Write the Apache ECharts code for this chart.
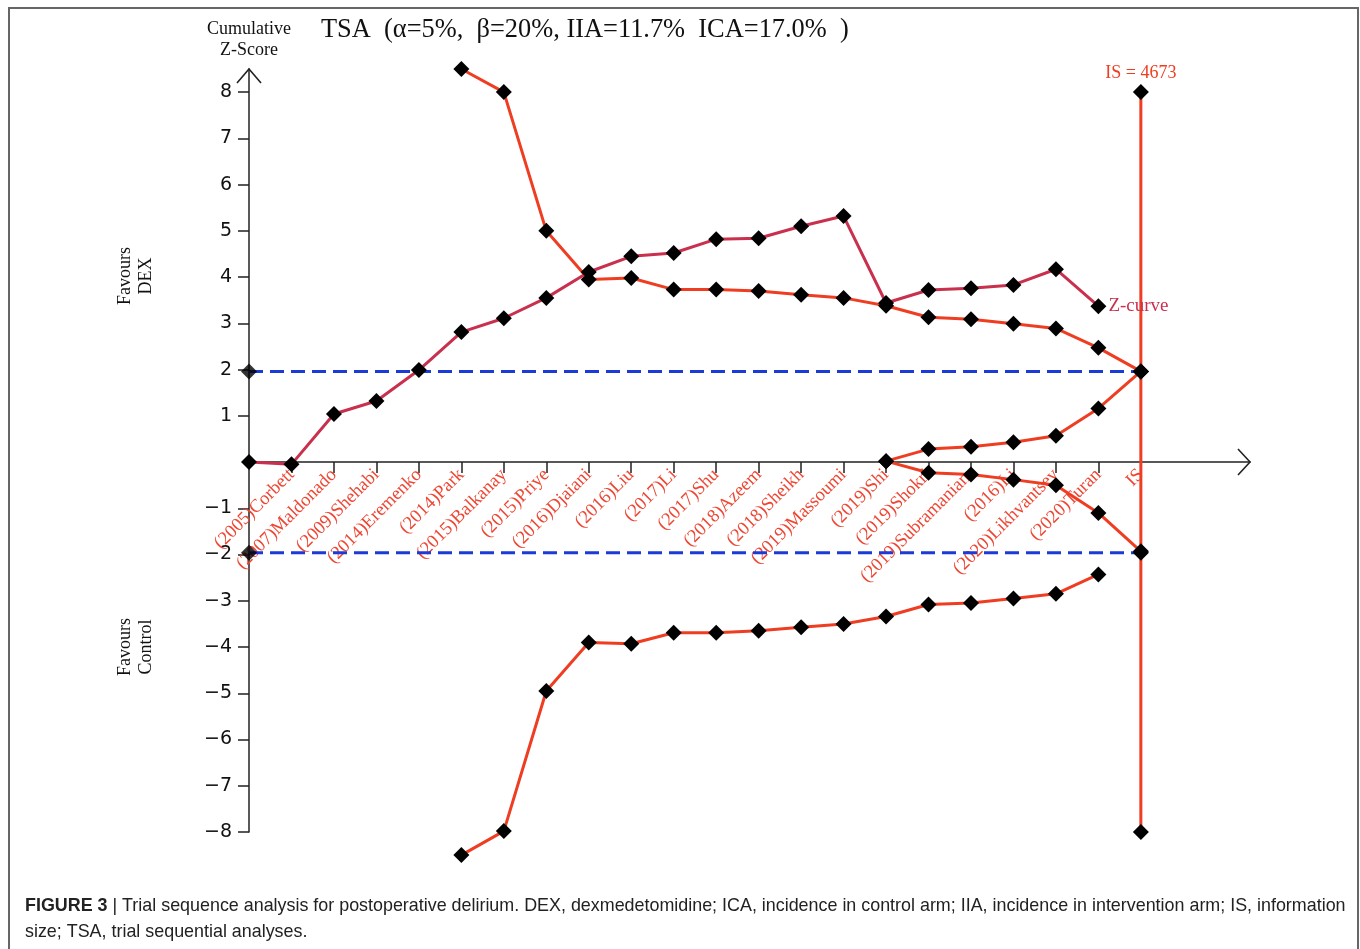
<!DOCTYPE html>
<html>
<head>
<meta charset="utf-8">
<script src="https://cdn.jsdelivr.net/npm/echarts@6/dist/echarts.min.js"></script>
<style>
  html, body { margin: 0; padding: 0; background: #fff; }
  #chart { width: 1360px; height: 949px; }
</style>
</head>
<body>
<div id="chart"></div>
<script>
// trial order on the x axis (0 = origin, last = required information size)
const studies = ['', '(2005)Corbett', '(2007)Maldonado', '(2009)Shehabi', '(2014)Eremenko', '(2014)Park',
  '(2015)Balkanay', '(2015)Priye', '(2016)Djaiani', '(2016)Liu', '(2017)Li', '(2017)Shu', '(2018)Azeem',
  '(2018)Sheikh', '(2019)Massoumi', '(2019)Shi', '(2019)Shokri', '(2019)Subramaniam', '(2016)Li',
  '(2020)Likhvantsev', '(2020)Turan', 'IS']

// cumulative Z-curve, one value per study position starting at the origin
const zCurve = [0, -0.05, 1.04, 1.32, 1.99, 2.81, 3.11, 3.55, 4.11, 4.45, 4.52, 4.82, 4.84, 5.10, 5.32,
  3.44, 3.72, 3.76, 3.83, 4.17, 3.37]

// monitoring boundaries (start index given separately)
const boundaryStart = 5
const upperBoundary = [8.5, 8.0, 5.0, 3.95, 3.98, 3.73, 3.73, 3.70, 3.62, 3.55, 3.38, 3.13, 3.09, 2.99, 2.89, 2.47, 1.96]
const lowerBoundary = [-8.5, -7.98, -4.95, -3.90, -3.93, -3.69, -3.69, -3.65, -3.57, -3.50, -3.34, -3.08, -3.05, -2.95, -2.85, -2.43]

// futility wedge
const futilityStart = 15
const futilityUpper = [0.02, 0.28, 0.33, 0.43, 0.57, 1.16, 1.96]
const futilityLower = [0.02, -0.23, -0.27, -0.38, -0.50, -1.10, -1.93]

// conventional boundaries and information size line
const conventional = [1.96, -1.96]
const isIndex = 21
const isLine = [8, 1.96, -1.96, -8]
const yTicks = [-8, -7, -6, -5, -4, -3, -2, -1, 1, 2, 3, 4, 5, 6, 7, 8]

const zColor = '#c9304e'
const bColor = '#ef3d22'
const blue = '#1b3ad6'
const serif = '"Liberation Serif", "DejaVu Serif", serif'

const toPairs = (start, arr) => arr.map((v, i) => [start + i, v])

const chart = echarts.init(document.getElementById('chart'))

const diamond = { symbol: 'diamond', symbolSize: 16, itemStyle: { color: '#000' } }
const xPositions = studies.map((s, i) => i).slice(1)

const option = {
  backgroundColor: '#fff',
  animation: false,
  title: {
    text: 'TSA  (α=5%,  β=20%, IIA=11.7%  ICA=17.0%  )',
    left: 321,
    top: 17,
    padding: 0,
    textStyle: { fontFamily: serif, fontSize: 26.4, fontWeight: 'normal', color: '#111' }
  },
  grid: { left: 249, right: 110, top: 69, bottom: 117 },
  xAxis: {
    type: 'value',
    min: 0,
    max: 23.57,
    interval: 1,
    position: 'bottom',
    offset: -370,
    splitLine: { show: false },
    axisLine: { onZero: false, lineStyle: { color: '#222', width: 1.5 } },
    axisTick: { show: true, length: 11, customValues: xPositions, lineStyle: { color: '#222', width: 1.5 } },
    axisLabel: {
      customValues: xPositions,
      rotate: 45,
      margin: 10,
      color: '#ee4633',
      fontFamily: serif,
      fontSize: 18.5,
      formatter: v => studies[Math.round(v)] || ''
    }
  },
  yAxis: {
    type: 'value',
    min: -8,
    max: 8.5,
    name: 'Cumulative\nZ-Score',
    nameLocation: 'end',
    nameGap: 8,
    nameTextStyle: { fontFamily: serif, fontSize: 18, color: '#111', lineHeight: 21, align: 'center' },
    splitLine: { show: false },
    axisLine: { lineStyle: { color: '#222', width: 1.5 } },
    axisTick: { length: 11, customValues: yTicks, lineStyle: { color: '#222', width: 1.5 } },
    axisLabel: {
      customValues: yTicks,
      margin: 17,
      color: '#111',
      fontFamily: '"DejaVu Sans", sans-serif',
      fontSize: 19,
      formatter: v => v < 0 ? '\u2212' + Math.abs(v) : String(v)
    }
  },
  series: [
    {
      name: 'conventional upper',
      type: 'line',
      data: [[0, conventional[0]], [isIndex, conventional[0]]],
      lineStyle: { color: blue, width: 3, type: [14, 7] },
      symbol: 'none',
      z: 3
    },
    {
      name: 'conventional lower',
      type: 'line',
      data: [[0, conventional[1]], [isIndex, conventional[1]]],
      lineStyle: { color: blue, width: 3, type: [14, 7] },
      symbol: 'none',
      z: 3
    },
    {
      name: 'conventional markers',
      type: 'scatter',
      data: [[0, conventional[0]], [0, conventional[1]]],
      ...diamond,
      clip: false,
      z: 6
    },
    {
      name: 'IS',
      type: 'line',
      data: isLine.map(v => [isIndex, v]),
      lineStyle: { color: bColor, width: 3 },
      ...diamond,
      showAllSymbol: true,
      clip: false,
      label: {
        show: true,
        position: 'top',
        distance: 2,
        color: bColor,
        fontFamily: serif,
        fontSize: 18,
        formatter: p => p.dataIndex === 0 ? 'IS = 4673' : ''
      },
      z: 4
    },
    {
      name: 'upper boundary',
      type: 'line',
      data: toPairs(boundaryStart, upperBoundary),
      lineStyle: { color: bColor, width: 3 },
      ...diamond,
      clip: false,
      z: 4
    },
    {
      name: 'lower boundary',
      type: 'line',
      data: toPairs(boundaryStart, lowerBoundary),
      lineStyle: { color: bColor, width: 3 },
      ...diamond,
      clip: false,
      z: 4
    },
    {
      name: 'futility upper',
      type: 'line',
      data: toPairs(futilityStart, futilityUpper),
      lineStyle: { color: bColor, width: 3 },
      ...diamond,
      clip: false,
      z: 4
    },
    {
      name: 'futility lower',
      type: 'line',
      data: toPairs(futilityStart, futilityLower),
      lineStyle: { color: bColor, width: 3 },
      ...diamond,
      clip: false,
      z: 4
    },
    {
      name: 'Z-curve',
      type: 'line',
      data: toPairs(0, zCurve),
      lineStyle: { color: zColor, width: 3 },
      ...diamond,
      clip: false,
      label: {
        show: true,
        position: 'right',
        distance: 2,
        color: zColor,
        fontFamily: serif,
        fontSize: 19,
        formatter: p => p.dataIndex === zCurve.length - 1 ? 'Z-curve' : ''
      },
      z: 5
    },
    {
      // open arrow heads at the ends of both axes
      name: 'arrows',
      type: 'custom',
      silent: true,
      clip: false,
      data: [[0, 0]],
      renderItem: (params, api) => {
        const yTip = api.coord([0, 8.5])
        const xTip = api.coord([23.57, 0])
        const style = { stroke: '#222', lineWidth: 1.6, fill: null }
        return {
          type: 'group',
          children: [
            { type: 'polyline', shape: { points: [[yTip[0] - 12, yTip[1] + 14], yTip, [yTip[0] + 12, yTip[1] + 14]] }, style },
            { type: 'polyline', shape: { points: [[xTip[0] - 12, xTip[1] - 13], xTip, [xTip[0] - 12, xTip[1] + 13]] }, style }
          ]
        }
      }
    }
  ],
  graphic: [
    {
      type: 'rect',
      shape: { x: 9, y: 8, width: 1349, height: 960 },
      style: { fill: null, stroke: '#666', lineWidth: 2 },
      silent: true
    },
    {
      type: 'text',
      x: 136,
      y: 276,
      rotation: Math.PI / 2,
      style: { text: 'Favours\nDEX', fontFamily: serif, fontSize: 18, lineHeight: 21, fill: '#111', align: 'center', verticalAlign: 'middle' }
    },
    {
      type: 'text',
      x: 136,
      y: 647,
      rotation: Math.PI / 2,
      style: { text: 'Favours\nControl', fontFamily: serif, fontSize: 18, lineHeight: 21, fill: '#111', align: 'center', verticalAlign: 'middle' }
    },
    {
      type: 'text',
      x: 25,
      y: 893,
      style: {
        text: '{b|FIGURE 3} | Trial sequence analysis for postoperative delirium. DEX, dexmedetomidine; ICA, incidence in control arm; IIA, incidence in intervention arm; IS, information\nsize; TSA, trial sequential analyses.',
        fontFamily: '"Liberation Sans", Arial, sans-serif',
        fontSize: 17.9,
        lineHeight: 26,
        fill: '#222',
        rich: {
          b: { fontFamily: '"Liberation Sans", Arial, sans-serif', fontSize: 17.9, fontWeight: 'bold', fill: '#222' }
        }
      }
    }
  ]
}

chart.setOption(option)
window.addEventListener('resize', () => chart.resize())
</script>
</body>
</html>
